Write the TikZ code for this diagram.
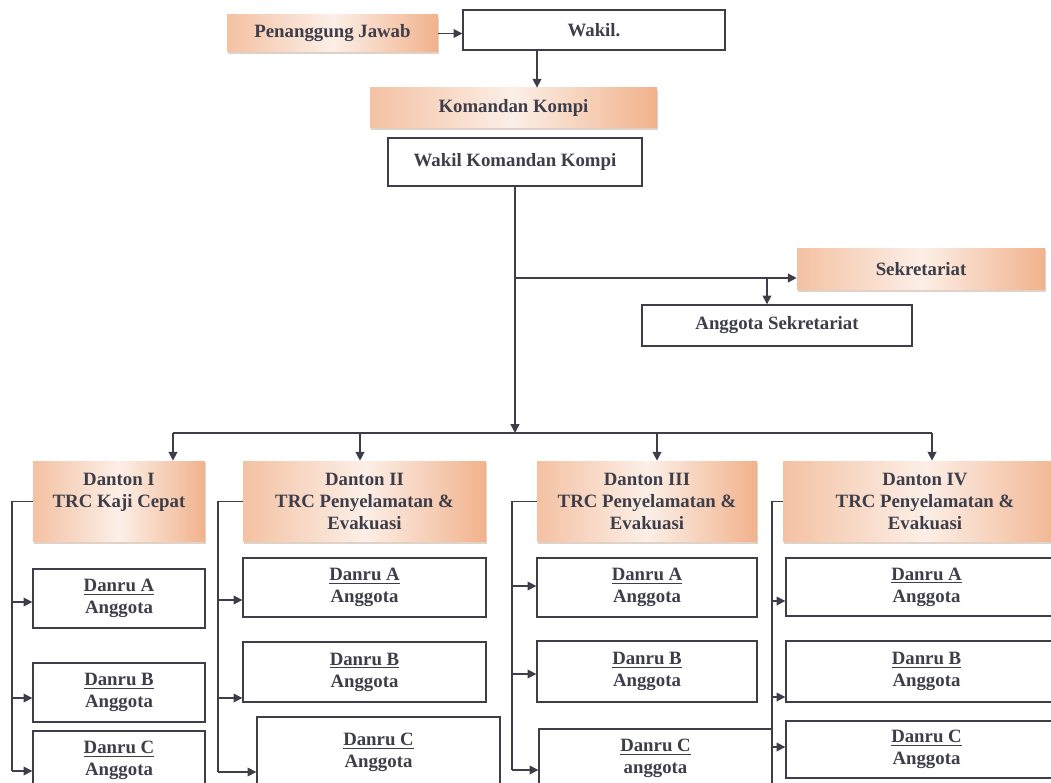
\documentclass[tikz,border=0pt]{standalone}
\usepackage{fontspec}
\setmainfont{Liberation Serif}
\usetikzlibrary{shapes.geometric, arrows.meta, shadows, positioning}
\definecolor{ink}{HTML}{3E3E4A}
\definecolor{peach}{HTML}{F1B28C}
\definecolor{peachlt}{HTML}{FCEFE7}

\begin{document}
\begin{tikzpicture}[x=0.02cm, y=-0.02cm,
    font=\fontsize{10.7}{12.5}\selectfont\bfseries, text=ink,
    box/.style={draw=ink, line width=0.8pt, fill=white, align=center, inner sep=0pt},
    head/.style={draw=none, align=center, inner sep=0pt, left color=peach!80, right color=peach, middle color=peachlt,
        drop shadow={shadow xshift=0.6pt, shadow yshift=-0.9pt, fill=peach!70!black, opacity=0.35}},
    ln/.style={draw=ink, line width=0.8pt},
    arr/.style={ln, -{Triangle[length=5pt, width=5pt]}}]
				\useasboundingbox (0,0) rectangle (1051,783);
				\clip (0,0) rectangle (1051,783);
				% Pimpinan
				\node[head, minimum width=4.22cm, minimum height=0.74cm] (pj) at (332.5,33.5) {Penanggung Jawab};
				\node[box, minimum width=5.24cm, minimum height=0.8cm] (wakil) at (594,30) {Wakil.};
				\node[head, minimum width=5.74cm, minimum height=0.8cm] (kk) at (513.5,108) {Komandan Kompi};
				\node[box, minimum width=5.08cm, minimum height=0.96cm] (wkk) at (515,162) {Wakil Komandan Kompi};
				\node[head, minimum width=4.96cm, minimum height=0.84cm] (sek) at (921,269) {Sekretariat};
				\node[box, minimum width=5.4cm, minimum height=0.82cm] (asek) at (777,325.5) {Anggota Sekretariat};
				% Danton
				\node[head, minimum width=3.44cm, minimum height=1.62cm] (d1) at (119,501.5) {Danton I\\TRC Kaji Cepat\\\phantom{E}};
				\node[head, minimum width=4.86cm, minimum height=1.62cm] (d2) at (364.5,501.5) {Danton II\\TRC Penyelamatan \&\\Evakuasi};
				\node[head, minimum width=4.4cm, minimum height=1.62cm] (d3) at (647,501.5) {Danton III\\TRC Penyelamatan \&\\Evakuasi};
				\node[head, minimum width=5.68cm, minimum height=1.62cm] (d4) at (925,501.5) {Danton IV\\TRC Penyelamatan \&\\Evakuasi};
				% Danru
				\node[box, minimum width=3.44cm, minimum height=1.18cm] (a1) at (119,598.5) {\underline{Danru A}\\Anggota};
				\node[box, minimum width=3.44cm, minimum height=1.18cm] (b1) at (119,692.5) {\underline{Danru B}\\Anggota};
				\node[box, minimum width=3.44cm, minimum height=1.18cm] (c1) at (119,760.5) {\underline{Danru C}\\Anggota};
				\node[box, minimum width=4.86cm, minimum height=1.18cm] (a2) at (364.5,587.5) {\underline{Danru A}\\Anggota};
				\node[box, minimum width=4.86cm, minimum height=1.2cm] (b2) at (364.5,672) {\underline{Danru B}\\Anggota};
				\node[box, minimum width=4.86cm, minimum height=1.4cm] (c2) at (378.5,752) {\underline{Danru C}\\Anggota};
				\node[box, minimum width=4.4cm, minimum height=1.18cm] (a3) at (647,587.5) {\underline{Danru A}\\Anggota};
				\node[box, minimum width=4.4cm, minimum height=1.22cm] (b3) at (647,671.5) {\underline{Danru B}\\Anggota};
				\node[box, minimum width=4.66cm, minimum height=1.18cm] (c3) at (655.5,758.5) {\underline{Danru C}\\anggota};
				\node[box, minimum width=5.62cm, minimum height=1.16cm] (a4) at (926.5,587) {\underline{Danru A}\\Anggota};
				\node[box, minimum width=5.62cm, minimum height=1.22cm] (b4) at (926.5,671.5) {\underline{Danru B}\\Anggota};
				\node[box, minimum width=5.62cm, minimum height=1.14cm] (c4) at (926.5,749.5) {\underline{Danru C}\\Anggota};
				% Garis komando
				\coordinate (w1) at (537,50);
				\coordinate (br) at (515,278);
				\coordinate (sb) at (767,278);
				\coordinate (bus) at (515,433);
				\draw[arr] (pj.east) -- (pj.east -| wakil.west);
				\draw[arr] (w1) -- (w1 |- kk.north);
				\draw[arr] (wkk.south) -- (bus);
				\draw[arr] (br) -- (br -| sek.west);
				\draw[arr] (sb) -- (sb |- asek.north);
				\draw[ln] (173,433) -- (932,433);
				\foreach \x/\n in {173/d1, 360/d2, 657/d3, 932/d4}
					\draw[arr] (\x,433) -- (\x,433 |- \n.north);
				% Danton ke Danru
				\draw[ln] (d1.west) -| (12,771);
				\foreach \n/\y in {a1/602, b1/698, c1/771}
					\draw[arr] (12,\y) -- (12,\y -| \n.west);
				\draw[ln] (d2.west) -| (218,772);
				\foreach \n/\y in {a2/600, b2/698, c2/772}
					\draw[arr] (218,\y) -- (218,\y -| \n.west);
				\draw[ln] (d3.west) -| (512,770);
				\foreach \n/\y in {a3/586, b3/674, c3/770}
					\draw[arr] (512,\y) -- (512,\y -| \n.west);
				\draw[ln] (d4.west) -| (772,790);
				\foreach \n/\y in {a4/601, b4/697, c4/747}
					\draw[arr] (772,\y) -- (772,\y -| \n.west);
			\end{tikzpicture}
\end{document}
